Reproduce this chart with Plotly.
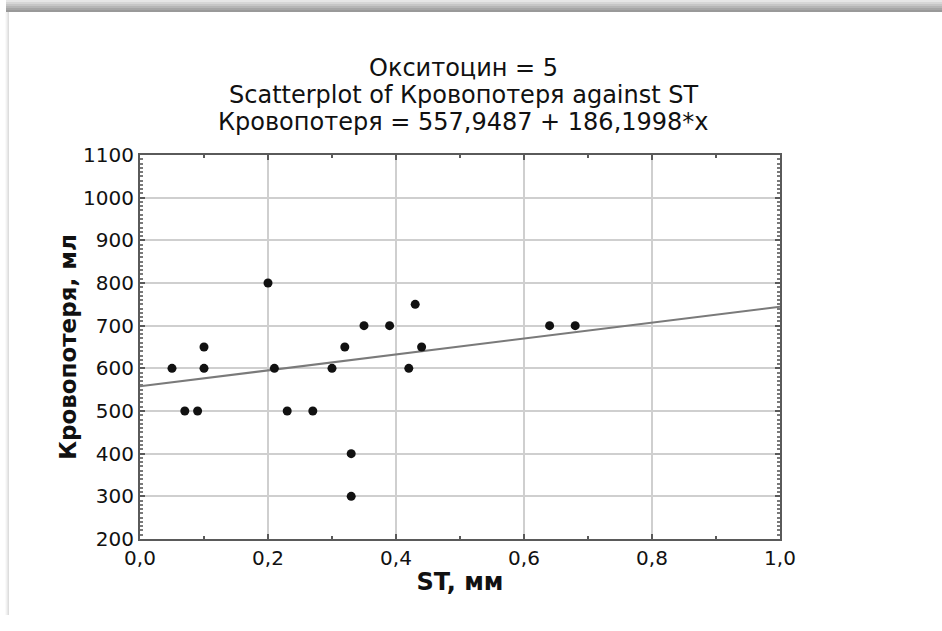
import plotly.graph_objects as go

# ---- data ----
st_mm = [0.05, 0.07, 0.09, 0.10, 0.10, 0.20, 0.21, 0.23, 0.27, 0.30,
         0.32, 0.33, 0.33, 0.35, 0.39, 0.42, 0.43, 0.44, 0.64, 0.68]
blood_loss = [600, 500, 500, 650, 600, 800, 600, 500, 500, 600,
              650, 400, 300, 700, 700, 600, 750, 650, 700, 700]

intercept = 557.9487
slope = 186.1998
line_x = [0.0, 1.0]

x_tick_vals = [0.0, 0.2, 0.4, 0.6, 0.8, 1.0]
x_tick_text = ["0,0", "0,2", "0,4", "0,6", "0,8", "1,0"]
y_tick_vals = [200, 300, 400, 500, 600, 700, 800, 900, 1000, 1100]

title_lines = ["Окситоцин = 5",
               "Scatterplot of Кровопотеря against ST",
               "Кровопотеря = 557,9487 + 186,1998*x"]
x_title = "ST, мм"
y_title = "Кровопотеря, мл"

line_y = [intercept + slope * v for v in line_x]

FONT = "DejaVu Sans"
W, H = 942, 631
L, R, T, B = 140, 162, 155, 92
PW, PH = W - L - R, H - T - B


def px_x(p):
    return (p - L) / PW


def px_y(p):
    return (H - B - p) / PH


fig = go.Figure()
fig.add_trace(go.Scatter(x=line_x, y=line_y, mode="lines",
                         line=dict(color="#7a7a7a", width=2),
                         hoverinfo="skip", showlegend=False))
fig.add_trace(go.Scatter(x=st_mm, y=blood_loss, mode="markers",
                         marker=dict(color="#111111", size=9),
                         showlegend=False))

axis_common = dict(
    showgrid=True, gridcolor="#cfcfcf", gridwidth=1.5,
    showline=True, linecolor="#5a5a5a", linewidth=2, mirror="allticks",
    ticks="inside", ticklen=5, tickcolor="#5a5a5a", tickwidth=1.5,
    zeroline=False,
    tickfont=dict(family=FONT, size=20, color="#111111"),
)

fig.update_xaxes(range=[0, 1], tickvals=x_tick_vals, ticktext=x_tick_text,
                 minor=dict(dtick=0.1, ticks="inside", ticklen=3,
                            tickcolor="#5a5a5a", showgrid=False),
                 title=dict(text="<b>" + x_title + "</b>",
                            font=dict(family=FONT, size=24, color="#111111"),
                            standoff=4),
                 **axis_common)
fig.update_yaxes(range=[200, 1100], tickvals=y_tick_vals,
                 minor=dict(dtick=10, ticks="inside", ticklen=3,
                            tickcolor="#7a7a7a", showgrid=False),
                 title=dict(text="<b>" + y_title + "</b>",
                            font=dict(family=FONT, size=23, color="#111111"),
                            standoff=0),
                 **axis_common)

# title lines
title_y_px = [68, 95, 122]
for txt, yp in zip(title_lines, title_y_px):
    fig.add_annotation(text=txt, xref="paper", yref="paper",
                       x=px_x(463), y=px_y(yp), xanchor="center", yanchor="middle",
                       showarrow=False,
                       font=dict(family=FONT, size=24, color="#111111"))

# decorative frame: gray top bar with gradient and left shadow
bar_colors = ["#e6e6e6", "#d6d6d6", "#c6c6c6", "#b6b6b6", "#a6a6a6", "#999999"]
for i, c in enumerate(bar_colors):
    fig.add_shape(type="rect", xref="paper", yref="paper", layer="above",
                  x0=px_x(6), x1=px_x(W), y0=px_y(2 * i + 2), y1=px_y(2 * i),
                  line=dict(width=0), fillcolor=c)
shadow_colors = ["#fafafa", "#f2f2f2", "#e8e8e8", "#dddddd"]
for i, c in enumerate(shadow_colors):
    fig.add_shape(type="rect", xref="paper", yref="paper", layer="above",
                  x0=px_x(5 + i), x1=px_x(6 + i), y0=px_y(615), y1=px_y(12),
                  line=dict(width=0), fillcolor=c)

fig.update_layout(
    width=W, height=H,
    margin=dict(l=L, r=R, t=T, b=B),
    paper_bgcolor="white", plot_bgcolor="white",
    separators=",.",
    font=dict(family=FONT, color="#111111"),
    showlegend=False,
)

fig.write_html("out.html",
               config={"displayModeBar": False},
               post_script="document.body.style.margin='0';"
                           "document.body.style.overflow='hidden';")
